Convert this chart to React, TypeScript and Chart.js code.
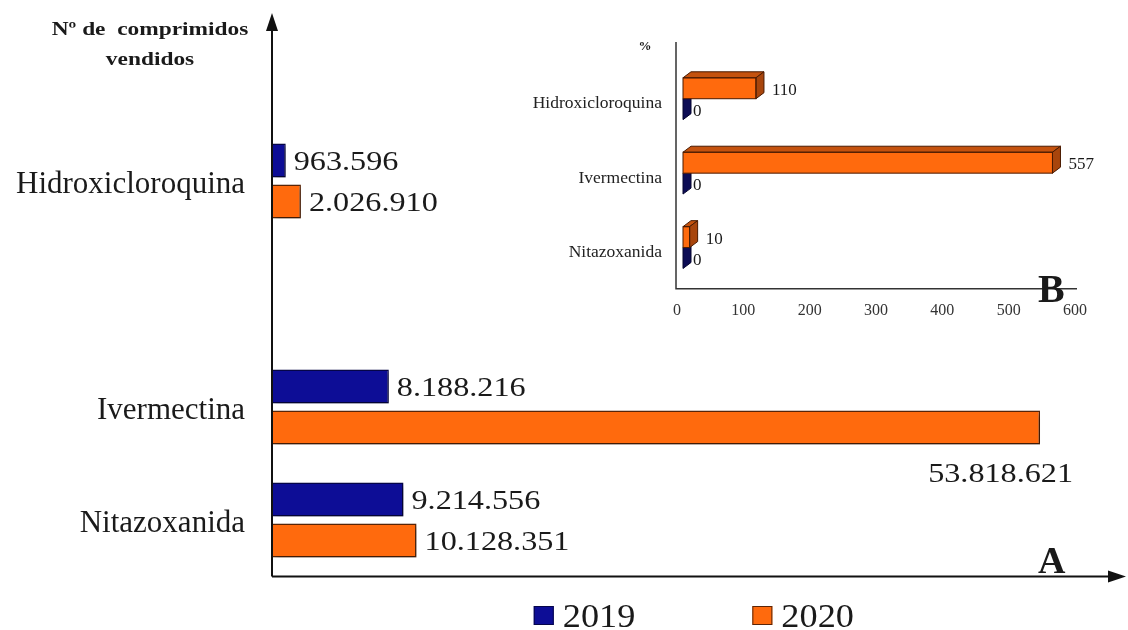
import React, { useEffect, useRef } from 'react';
import { Chart, registerables } from 'chart.js';

Chart.register(...registerables);

// ---------- Data (chart A) ----------
// the '' entry is the empty spacer row of the original layout
const categories = ['Hidroxicloroquina', '', 'Ivermectina', 'Nitazoxanida'];
const sales2019: (number | null)[] = [963596, null, 8188216, 9214556];
const sales2020: (number | null)[] = [2026910, null, 53818621, 10128351];
const seriesLabels = ['2019', '2020'];
const yTitleLines = ['Nº de  comprimidos', 'vendidos'];

// ---------- Data (chart B, %) ----------
const insetCategories = ['Hidroxicloroquina', 'Ivermectina', 'Nitazoxanida'];
const pct2020 = [110, 557, 10];
const pct2019 = [0, 0, 0];
const insetMin = 0;
const insetMax = 600;
const insetStep = 100;

const SERIF = "'Liberation Serif', 'Times New Roman', serif";
const BLUE = '#0D0D96';
const BLUE_EDGE = '#06064a';
const ORANGE = '#FF6A0D';
const ORANGE_EDGE = '#5a2508';
const INK = '#1a1a1a';

const fmt = (n: number) => String(n).replace(/\B(?=(\d{3})+(?!\d))/g, '.');

function stretchText(ctx: CanvasRenderingContext2D, text: string, x: number, y: number, sx: number, align: CanvasTextAlign) {
  ctx.save();
  ctx.translate(x, y);
  ctx.scale(sx, 1);
  ctx.textAlign = align;
  ctx.fillText(text, 0, 0);
  ctx.restore();
}

const shadowPlugin = {
  id: 'barShadow',
  beforeDatasetDraw(chart: any) {
    const c = chart.ctx;
    c.save();
    c.shadowColor = 'rgba(0,0,0,0.35)';
    c.shadowBlur = 5;
    c.shadowOffsetX = 3;
    c.shadowOffsetY = 3;
  },
  afterDatasetDraw(chart: any) {
    chart.ctx.restore();
  },
};

const mainDecor = {
  id: 'mainDecor',
  afterDraw(chart: any) {
    const ctx: CanvasRenderingContext2D = chart.ctx;
    const area = chart.chartArea;
    const x0 = chart.scales.x.getPixelForValue(0);
    const yb = area.bottom;
    ctx.save();
    // axes with arrows
    ctx.strokeStyle = '#111';
    ctx.fillStyle = '#111';
    ctx.lineWidth = 2;
    ctx.beginPath();
    ctx.moveTo(x0, yb);
    ctx.lineTo(x0, 28);
    ctx.moveTo(x0, yb);
    ctx.lineTo(1112, yb);
    ctx.stroke();
    ctx.beginPath();
    ctx.moveTo(x0, 13);
    ctx.lineTo(x0 - 6, 31);
    ctx.lineTo(x0 + 6, 31);
    ctx.closePath();
    ctx.fill();
    ctx.beginPath();
    ctx.moveTo(1126, yb);
    ctx.lineTo(1108, yb - 6);
    ctx.lineTo(1108, yb + 6);
    ctx.closePath();
    ctx.fill();

    // value labels
    ctx.fillStyle = INK;
    ctx.font = `28px ${SERIF}`;
    ctx.textBaseline = 'middle';
    chart.data.datasets.forEach((ds: any, i: number) => {
      const meta = chart.getDatasetMeta(i);
      meta.data.forEach((el: any, j: number) => {
        const v = ds.data[j];
        if (v === null || v === undefined) return;
        const p = el.getProps(['x', 'y'], true);
        const txt = fmt(v);
        const w = ctx.measureText(txt).width * 1.15;
        if (p.x + 8 + w > chart.width - 4) {
          stretchText(ctx, txt, p.x + 33, p.y + 47, 1.15, 'right');
        } else {
          stretchText(ctx, txt, p.x + 8, p.y + 2, 1.15, 'left');
        }
      });
    });

    // axis title
    ctx.font = `bold 19px ${SERIF}`;
    stretchText(ctx, yTitleLines[0], 150, 30, 1.23, 'center');
    stretchText(ctx, yTitleLines[1], 150, 60, 1.23, 'center');

    // panel letter
    ctx.font = `bold 38px ${SERIF}`;
    ctx.textBaseline = 'alphabetic';
    ctx.textAlign = 'left';
    ctx.fillText('A', 1038, 573);

    // legend
    ctx.font = `33px ${SERIF}`;
    const box = 20, gapBT = 9, gapItems = 117, sx = 1.1;
    const items = chart.data.datasets.map((ds: any) => ({
      label: ds.label, fill: ds.backgroundColor, edge: ds.borderColor,
      w: box + gapBT + ctx.measureText(ds.label).width * sx,
    }));
    const total = items.reduce((s: number, it: any) => s + it.w, 0) + gapItems * (items.length - 1);
    let lx = (area.left + area.right) / 2 + 8 - total / 2;
    items.forEach((it: any) => {
      ctx.fillStyle = it.fill;
      ctx.fillRect(lx, 606, box, 19);
      ctx.strokeStyle = it.edge;
      ctx.lineWidth = 1;
      ctx.strokeRect(lx + 0.5, 606.5, box - 1, 18);
      ctx.fillStyle = INK;
      stretchText(ctx, it.label, lx + box + gapBT, 627, sx, 'left');
      lx += it.w + gapItems;
    });
    ctx.restore();
  },
};

const DEPTH_X = 8;
const DEPTH_Y = -6;
const faceColors = [
  { top: '#C4520E', side: '#A8450C', edge: '#4a1a00' },
  { top: '#12125c', side: '#0c0c55', edge: '#05052e' },
];

const bar3d = {
  id: 'bar3d',
  afterDatasetDraw(chart: any, args: any) {
    const ctx: CanvasRenderingContext2D = chart.ctx;
    const fc = faceColors[args.index];
    ctx.save();
    ctx.lineWidth = 1;
    ctx.strokeStyle = fc.edge;
    args.meta.data.forEach((el: any) => {
      const p = el.getProps(['x', 'y', 'base', 'height'], true);
      const xa = p.base, xb = p.x;
      const yt = p.y - p.height / 2, ybt = p.y + p.height / 2;
      if (xb - xa > 0.5) {
        ctx.fillStyle = fc.top;
        ctx.beginPath();
        ctx.moveTo(xa, yt);
        ctx.lineTo(xb, yt);
        ctx.lineTo(xb + DEPTH_X, yt + DEPTH_Y);
        ctx.lineTo(xa + DEPTH_X, yt + DEPTH_Y);
        ctx.closePath();
        ctx.fill();
        ctx.stroke();
      }
      ctx.fillStyle = fc.side;
      ctx.beginPath();
      ctx.moveTo(xb, yt);
      ctx.lineTo(xb + DEPTH_X, yt + DEPTH_Y);
      ctx.lineTo(xb + DEPTH_X, ybt + DEPTH_Y);
      ctx.lineTo(xb, ybt);
      ctx.closePath();
      ctx.fill();
      ctx.stroke();
      if (xb - xa > 0.5) {
        ctx.strokeRect(xa, yt, xb - xa, ybt - yt);
      }
    });
    ctx.restore();
  },
};

const insetDecor = {
  id: 'insetDecor',
  afterDraw(chart: any) {
    const ctx: CanvasRenderingContext2D = chart.ctx;
    const area = chart.chartArea;
    const ax = area.left - 7;
    const ay = area.bottom + 4;
    ctx.save();
    ctx.strokeStyle = '#333';
    ctx.lineWidth = 1.5;
    ctx.beginPath();
    ctx.moveTo(ax, 12);
    ctx.lineTo(ax, ay);
    ctx.lineTo(area.right - 4, ay);
    ctx.stroke();

    ctx.fillStyle = INK;
    ctx.font = `17px ${SERIF}`;
    ctx.textBaseline = 'middle';
    ctx.textAlign = 'left';
    chart.data.datasets.forEach((ds: any, i: number) => {
      const meta = chart.getDatasetMeta(i);
      meta.data.forEach((el: any, j: number) => {
        const p = el.getProps(['x', 'y'], true);
        const off = ds.data[j] > 0 ? 16 : 10;
        ctx.fillText(String(ds.data[j]), p.x + off, p.y + 2);
      });
    });

    ctx.font = `bold 13px ${SERIF}`;
    ctx.textAlign = 'center';
    ctx.fillText('%', 125, 17);

    ctx.font = `bold 40px ${SERIF}`;
    ctx.textAlign = 'left';
    ctx.textBaseline = 'alphabetic';
    ctx.fillText('B', 518, 272);
    ctx.restore();
  },
};

export default function App() {
  const mainRef = useRef<HTMLCanvasElement>(null);
  const insetRef = useRef<HTMLCanvasElement>(null);

  useEffect(() => {
    const main = new Chart(mainRef.current as HTMLCanvasElement, {
      type: 'bar',
      data: {
        labels: categories,
        datasets: [
          {
            label: seriesLabels[0], data: sales2019, backgroundColor: BLUE, borderColor: BLUE_EDGE,
            borderWidth: 1.5, categoryPercentage: 0.726, barPercentage: 0.83,
          },
          {
            label: seriesLabels[1], data: sales2020, backgroundColor: ORANGE, borderColor: ORANGE_EDGE,
            borderWidth: 1.5, categoryPercentage: 0.726, barPercentage: 0.83,
          },
        ],
      },
      options: {
        indexAxis: 'y',
        animation: false,
        responsive: false,
        layout: { padding: { top: 124.5, bottom: 53.5, right: 28.3, left: 0 } },
        scales: {
          x: { display: false, min: 0, max: 58000000 },
          y: {
            grid: { display: false, drawTicks: false },
            border: { display: false },
            ticks: { font: { family: SERIF, size: 31 }, color: INK, padding: 27, labelOffset: 4 },
            afterFit: (s: any) => { s.width = 272; },
          },
        },
        plugins: { legend: { display: false }, tooltip: { enabled: false } },
      } as any,
      plugins: [shadowPlugin, mainDecor],
    });

    const inset = new Chart(insetRef.current as HTMLCanvasElement, {
      type: 'bar',
      data: {
        labels: insetCategories,
        datasets: [
          { label: seriesLabels[1], data: pct2020, backgroundColor: ORANGE, borderWidth: 0, categoryPercentage: 0.562, barPercentage: 1 },
          { label: seriesLabels[0], data: pct2019, backgroundColor: '#14145E', borderWidth: 0, categoryPercentage: 0.562, barPercentage: 1 },
        ],
      },
      options: {
        indexAxis: 'y',
        animation: false,
        responsive: false,
        layout: { padding: { top: 5, bottom: 14, right: 39, left: 0 } },
        scales: {
          x: {
            min: insetMin, max: insetMax,
            grid: { display: false, drawTicks: false },
            border: { display: false },
            ticks: { stepSize: insetStep, font: { family: SERIF, size: 16 }, color: '#333', padding: 16, labelOffset: -6, maxRotation: 0 },
          },
          y: {
            grid: { display: false, drawTicks: false },
            border: { display: false },
            ticks: { font: { family: SERIF, size: 17.5 }, color: '#222', padding: 21, labelOffset: 5 },
            afterFit: (s: any) => { s.width = 163; },
          },
        },
        plugins: { legend: { display: false }, tooltip: { enabled: false } },
      } as any,
      plugins: [bar3d, insetDecor],
    });

    return () => {
      main.destroy();
      inset.destroy();
    };
  }, []);

  return (
    <div style={{ position: 'fixed', left: 0, top: 0, width: 1128, height: 630, background: '#fff' }}>
      <canvas ref={mainRef} width={1128} height={630} style={{ position: 'absolute', left: 0, top: 0 }} />
      <canvas ref={insetRef} width={600} height={320} style={{ position: 'absolute', left: 520, top: 30 }} />
    </div>
  );
}
